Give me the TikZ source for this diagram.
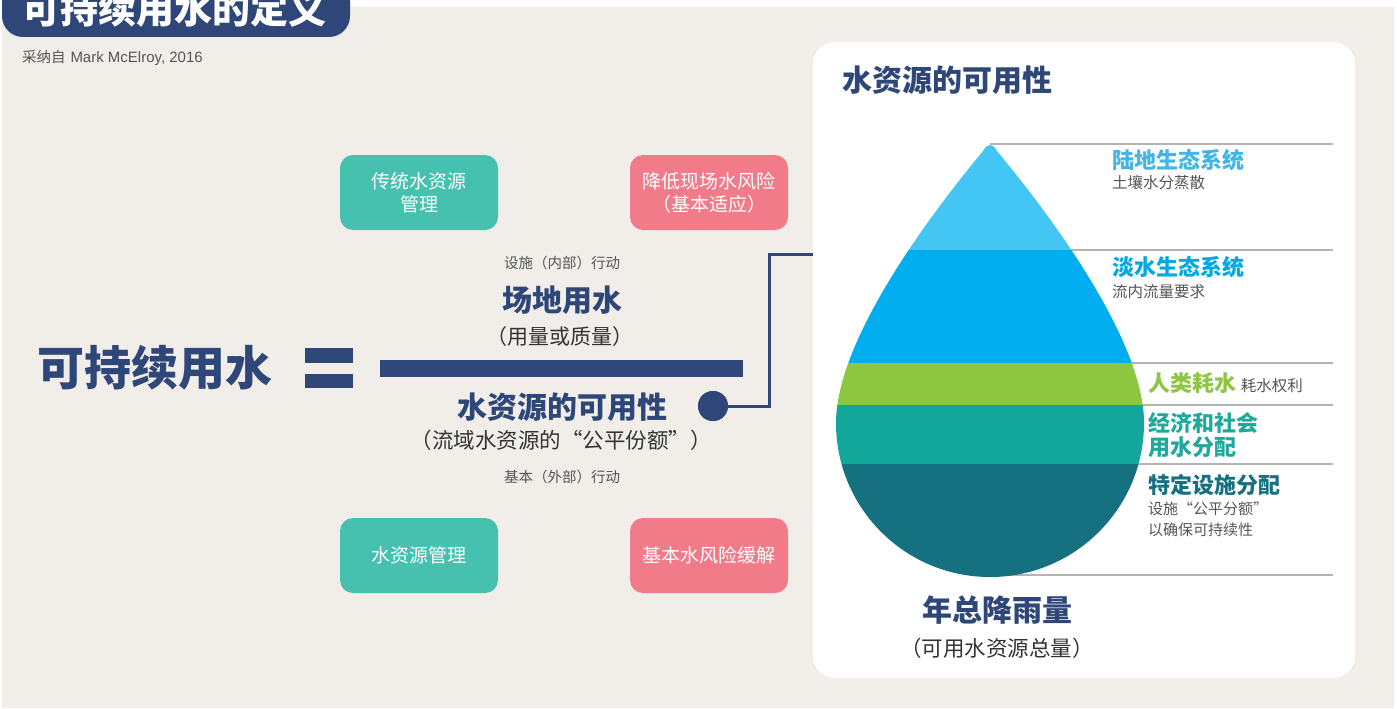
\documentclass[tikz,border=0pt]{standalone}
\usepackage{fontspec}
\setmainfont{Noto Sans CJK SC}
\newfontfamily\latinsans{Liberation Sans}
\definecolor{bgc}{HTML}{F1EEE9}
\definecolor{navy}{HTML}{2F4778}
\definecolor{tealbox}{HTML}{47C1AF}
\definecolor{pinkbox}{HTML}{F27B8A}
\definecolor{graytxt}{HTML}{555555}
\definecolor{darktxt}{HTML}{333333}
\definecolor{lineg}{HTML}{B4B4B4}
\definecolor{dropa}{HTML}{43C6F3}
\definecolor{dropb}{HTML}{00AEEF}
\definecolor{dropc}{HTML}{8DC63F}
\definecolor{dropd}{HTML}{13A69A}
\definecolor{drope}{HTML}{15707F}
\definecolor{labela}{HTML}{41B5E8}
\definecolor{labelb}{HTML}{00A9E6}
\definecolor{labelc}{HTML}{8DC63F}
\definecolor{labeld}{HTML}{1FA89C}
\definecolor{labele}{HTML}{15707F}
\newcommand\fsz[2]{\fontsize{#1}{#2}\selectfont}
\tikzset{
  stepbox/.style={rounded corners=13pt, minimum width=158pt, minimum height=75pt, text=white, align=center, inner sep=0pt, font=\fsz{19}{23}},
  txt/.style={inner sep=0pt, outer sep=0pt},
  hline/.style={draw=lineg, line width=1.3pt},
}
\begin{document}
\begin{tikzpicture}[x=1pt,y=-1pt]
\useasboundingbox (0,0) rectangle (1397,709);
\clip (0,0) rectangle (1397,709);
% background
\fill[white] (0,0) rectangle (1397,709);
\fill[bgc] (2,7) rectangle (1394,708);
% title pill
\fill[navy, rounded corners=21pt] (2,-40) rectangle (350,37);
\node[txt, text=white, font=\fsz{38}{44}\bfseries] (title) at (175,9) {可持续用水的定义};
\node[txt, anchor=west, text=graytxt, font=\fsz{14.5}{17}] (source) at (22,58) {采纳自\hspace{5pt}{\latinsans\fsz{15}{17}Mark McElroy, 2016}};
% boxes
\node[stepbox, fill=tealbox] (tradmgmt) at (419,192.5) {传统水资源\\管理};
\node[stepbox, fill=pinkbox] (siterisk) at (709,192.5) {降低现场水风险\\（基本适应）};
\node[stepbox, fill=tealbox] (watermgmt) at (419,555.5) {水资源管理};
\node[stepbox, fill=pinkbox] (basinrisk) at (709,555.5) {基本水风险缓解};
% equation
\node[txt, text=navy, font=\fsz{47}{52}\bfseries] (sustain) at (155,368) {可持续用水};
\fill[navy] (305,348) rectangle (353,363);
\fill[navy] (305,374) rectangle (353,388);
\node[txt, text=graytxt, font=\fsz{14.5}{17}] (inner) at (562,263) {设施（内部）行动};
\node[txt, text=navy, font=\fsz{30}{34}\bfseries] (siteuse) at (562,300) {场地用水};
\node[txt, text=darktxt, font=\fsz{21}{24}] (sitesub) at (560,337) {（用量或质量）};
\fill[navy] (380,360) rectangle (743,377);
\node[txt, text=navy, font=\fsz{30}{34}\bfseries] (avail) at (562,407) {水资源的可用性};
\node[txt, text=darktxt, font=\fsz{21.5}{24}] (availsub) at (561,440) {（流域水资源的“公平份额”）};
\node[txt, text=graytxt, font=\fsz{14.5}{17}] (outer) at (562,477) {基本（外部）行动};
% panel
\fill[white, rounded corners=22pt] (813,42) rectangle (1355,678);
\node[txt, anchor=west, text=navy, font=\fsz{30}{34}\bfseries] (paneltitle) at (842,80) {水资源的可用性};
% connector
\node[circle, fill=navy, minimum size=30pt, inner sep=0pt] (dot) at (713,406) {};
\coordinate (bend) at (769,254);
\coordinate (pin) at (813,254);
\draw[navy, line width=3pt] (dot.center) -| (bend) -- (pin);
\fill[navy] (dot) circle[radius=15];
% gray lines
\draw[hline] (990,144) -- (1333,144);
\draw[hline] (990,250) -- (1333,250);
\draw[hline] (990,363) -- (1333,363);
\draw[hline] (990,405) -- (1333,405);
\draw[hline] (990,464) -- (1333,464);
\draw[hline] (990,575) -- (1333,575);
% drop
\begin{scope}
\clip (983,151) .. controls (987,143) and (993,143) .. (997,151)
  .. controls (1050,215) and (1144,340) .. (1144,423)
  arc[start angle=0, end angle=180, radius=154]
  .. controls (836,340) and (930,215) .. (983,151) -- cycle;
\fill[dropa] (820,130) rectangle (1160,250);
\fill[dropb] (820,250) rectangle (1160,363);
\fill[dropc] (820,363) rectangle (1160,405);
\fill[dropd] (820,405) rectangle (1160,464);
\fill[drope] (820,464) rectangle (1160,590);
\end{scope}
% labels
\node[txt, anchor=west, text=labela, font=\fsz{22}{26}\bfseries] (terr) at (1112,160) {陆地生态系统};
\node[txt, anchor=west, text=graytxt, font=\fsz{15.5}{18}] (terrsub) at (1112,183) {土壤水分蒸散};
\node[txt, anchor=west, text=labelb, font=\fsz{22}{26}\bfseries] (fresh) at (1112,267) {淡水生态系统};
\node[txt, anchor=west, text=graytxt, font=\fsz{15.5}{18}] (freshsub) at (1112,292) {流内流量要求};
\node[txt, anchor=west, font=\fsz{22}{26}] (human) at (1148,383) {{\bfseries\color{labelc}人类耗水} {\fsz{15.5}{18}\color{graytxt}耗水权利}};
\node[txt, anchor=west, align=left, text=labeld, font=\fsz{22}{24}\bfseries] (econ) at (1148,435) {经济和社会\\用水分配};
\node[txt, anchor=west, text=labele, font=\fsz{22}{26}\bfseries] (facility) at (1148,485) {特定设施分配};
\node[txt, anchor=west, text=graytxt, font=\fsz{15}{18}] (facsub1) at (1148,509) {设施“公平分额”};
\node[txt, anchor=west, text=graytxt, font=\fsz{15}{18}] (facsub2) at (1148,530) {以确保可持续性};
\node[txt, text=navy, font=\fsz{30}{34}\bfseries] (rain) at (997,610) {年总降雨量};
\node[txt, text=darktxt, font=\fsz{21.5}{24}] (rainsub) at (997,648) {（可用水资源总量）};
\end{tikzpicture}
\end{document}
